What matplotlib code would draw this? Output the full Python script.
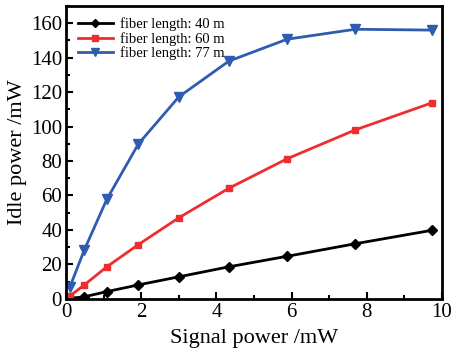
import matplotlib
matplotlib.use("Agg")
import matplotlib.pyplot as plt
from matplotlib.ticker import MultipleLocator

# signal power (mW)
signal = [0.1, 0.48, 1.08, 1.92, 3.0, 4.33, 5.88, 7.7, 9.74]

idle_40m = [0.3, 1.2, 4.2, 8.1, 12.8, 18.6, 24.7, 32.0, 39.8]
idle_60m = [1.7, 8.1, 18.6, 31.5, 47.1, 64.2, 81.3, 98.1, 113.8]
idle_77m = [7.1, 28.4, 57.8, 89.9, 117.3, 138.0, 150.7, 156.5, 156.0]

labels = ["fiber length: 40 m", "fiber length: 60 m", "fiber length: 77 m"]

plt.rcParams["font.family"] = ["Liberation Serif", "DejaVu Serif"]

fig = plt.figure(figsize=(4.54, 3.52), dpi=100)
ax = fig.add_axes([0.146, 0.151, 0.827, 0.832])

ax.plot(signal, idle_40m, color="black", marker="D", markersize=5, lw=2, label=labels[0])
ax.plot(signal, idle_60m, color="#ee2e2e", marker="s", markersize=5, lw=2, label=labels[1])
ax.plot(signal, idle_77m, color="#2f5caf", marker="v", markersize=6.5, lw=2, label=labels[2])

ax.set_xlim(0, 10)
ax.set_ylim(0, 170)
ax.xaxis.set_major_locator(MultipleLocator(2))
ax.xaxis.set_minor_locator(MultipleLocator(1))
ax.yaxis.set_major_locator(MultipleLocator(20))
ax.yaxis.set_minor_locator(MultipleLocator(10))
ax.tick_params(which="both", direction="in", top=False, right=False, width=1.5,
               labelsize=15)
ax.tick_params(axis="x", pad=3)
ax.tick_params(axis="y", pad=3)
ax.tick_params(which="major", length=5)
ax.tick_params(which="minor", length=3)
for s in ax.spines.values():
    s.set_linewidth(2)

ax.set_xlabel("Signal power /mW", fontsize=16, labelpad=5)
ax.set_ylabel("Idle power /mW", fontsize=16, labelpad=3)

leg = ax.legend(loc="upper left", frameon=False, fontsize=10.5, handlelength=2.4,
                handletextpad=0.5, labelspacing=0.05, borderaxespad=0.4,
                markerscale=0.85)

fig.savefig("out.png", dpi=100)
